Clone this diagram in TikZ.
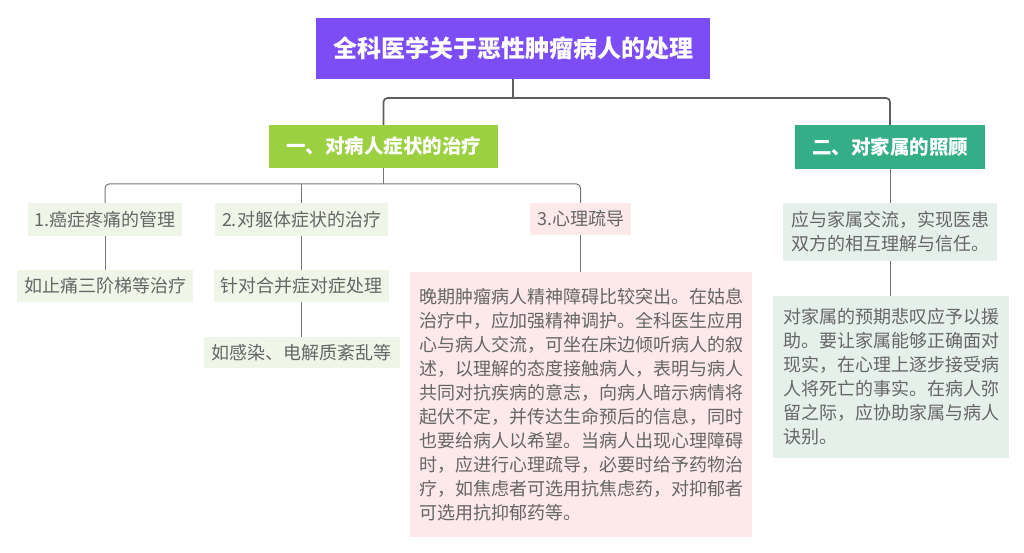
\documentclass[tikz,border=0pt]{standalone}
\usepackage{fontspec}
\setmainfont{Noto Sans CJK SC}
\usetikzlibrary{calc}
\definecolor{titlepurple}{HTML}{7C4DF5}
\definecolor{limegreen}{HTML}{9BD041}
\definecolor{seateal}{HTML}{33AE86}
\definecolor{palegreen}{HTML}{EFF6E7}
\definecolor{palepink}{HTML}{FDE8EA}
\definecolor{paleteal}{HTML}{E5F0EB}
\definecolor{leafgray}{HTML}{666666}
\definecolor{linegray}{HTML}{5E5E5E}
\tikzset{
  leaf/.style={inner sep=0pt, text=leafgray, font=\fontsize{18}{24}\selectfont},
  topic/.style={inner sep=0pt, text=white, font=\fontsize{19.5}{24}\selectfont\bfseries},
  trunk/.style={draw=linegray, line width=1.7pt, rounded corners=4pt},
  twig/.style={draw=linegray!85, line width=1pt, rounded corners=4pt},
}

\begin{document}
\begin{tikzpicture}[x=1pt, y=-1pt]
  \useasboundingbox (0,0) rectangle (1024,553);
  %%%%% START %%%%%

  \node[topic, fill=titlepurple, minimum width=394pt, minimum height=61pt,
        font=\fontsize{24}{28}\selectfont\bfseries] (title) at (513,48.5) {全科医学关于恶性肿瘤病人的处理};

  \node[topic, fill=limegreen, minimum width=229pt, minimum height=43pt] (sympt) at (383.5,146.5) {一、对病人症状的治疗};
  \node[topic, fill=seateal, minimum width=190pt, minimum height=44pt] (family) at (890,147) {二、对家属的照顾};

  \node[leaf, fill=palegreen, minimum width=154pt, minimum height=33pt] (pain) at (105,219.5) {1.癌症疼痛的管理};
  \node[leaf, fill=palegreen, minimum width=173pt, minimum height=33pt] (body) at (301.5,219.5) {2.对躯体症状的治疗};
  \node[leaf, fill=palepink, minimum width=101pt, minimum height=32pt] (psych) at (580.5,219) {3.心理疏导};

  \node[leaf, fill=palegreen, minimum width=176pt, minimum height=32pt] (ladder) at (105,286) {如止痛三阶梯等治疗};
  \node[leaf, fill=palegreen, minimum width=175pt, minimum height=32pt] (compl) at (301.5,286) {针对合并症对症处理};
  \node[leaf, fill=palegreen, minimum width=196pt, minimum height=31pt] (infect) at (301.5,352.5) {如感染、电解质紊乱等};

  \node[leaf, fill=palepink, minimum width=342pt, minimum height=265pt, align=left] (psychtxt) at (581,404.5)
    {晚期肿瘤病人精神障碍比较突出。在姑息\\治疗中，应加强精神调护。全科医生应用\\心与病人交流，可坐在床边倾听病人的叙\\述，以理解的态度接触病人，表明与病人\\共同对抗疾病的意志，向病人暗示病情将\\起伏不定，并传达生命预后的信息，同时\\也要给病人以希望。当病人出现心理障碍\\时，应进行心理疏导，必要时给予药物治\\疗，如焦虑者可选用抗焦虑药，对抑郁者\\可选用抗抑郁药等。};

  \node[leaf, fill=paleteal, minimum width=214pt, minimum height=58pt, align=left] (talk) at (890,232)
    {应与家属交流，实现医患\\双方的相互理解与信任。};
  \node[leaf, fill=paleteal, minimum width=236pt, minimum height=162pt, align=left] (grief) at (891,377)
    {对家属的预期悲叹应予以援\\助。要让家属能够正确面对\\现实，在心理上逐步接受病\\人将死亡的事实。在病人弥\\留之际，应协助家属与病人\\诀别。};

  % connectors
  \coordinate (j1) at (513,98);
  \draw[trunk] (title.south) -- (j1);
  \draw[trunk] (sympt.north) -- (sympt.north |- j1) -- (family.north |- j1) -- (family.north);

  \coordinate (j2) at (383.5,184);
  \draw[twig] (sympt.south) -- (j2);
  \draw[twig] (pain.north) -- (pain.north |- j2) -- (psych.north |- j2) -- (psych.north);
  \draw[twig] (body.north |- j2) -- (body.north);

  \draw[twig] (pain.south) -- (ladder.north);
  \draw[twig] (body.south) -- (compl.north);
  \draw[twig] (compl.south) -- (infect.north);
  \draw[twig] (psych.south) -- (psych.south |- psychtxt.north);
  \draw[twig] (family.south) -- (talk.north);
  \draw[twig] (talk.south) -- (talk.south |- grief.north);

  %%%%% END %%%%%
\end{tikzpicture}
\end{document}
